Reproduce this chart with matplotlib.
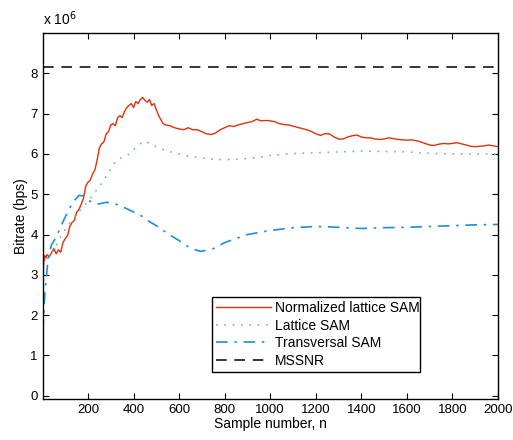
import matplotlib
matplotlib.use("Agg")
import matplotlib.pyplot as plt
import numpy as np

plt.rcParams['font.family'] = ['Liberation Sans', 'DejaVu Sans']

# values in units of 1e6 bps
n_norm = [1, 5, 10, 15, 20, 30, 40, 50, 60, 70, 80, 90, 100, 110, 120, 130, 140, 150,
          160, 170, 180, 190, 200, 210, 220, 230, 240, 250, 260, 270, 280, 290, 300,
          310, 320, 330, 340, 350, 360, 370, 380, 390, 400, 410, 420, 430, 440, 450,
          460, 470, 480, 490, 500, 510, 520, 530, 540, 560, 580, 600, 620, 640, 660,
          680, 700, 720, 740, 760, 780, 800, 820, 840, 860, 880, 900, 920, 940, 960,
          980, 1000, 1020, 1040, 1060, 1080, 1100, 1120, 1140, 1160, 1180, 1200, 1220,
          1240, 1260, 1280, 1300, 1320, 1340, 1360, 1380, 1400, 1420, 1440, 1460, 1480,
          1500, 1520, 1540, 1560, 1580, 1600, 1620, 1640, 1660, 1680, 1700, 1720, 1740,
          1760, 1780, 1800, 1820, 1840, 1860, 1880, 1900, 1920, 1940, 1960, 1980, 2000]
v_norm = [2.5, 3.3, 3.48, 3.42, 3.5, 3.45, 3.55, 3.65, 3.52, 3.62, 3.56, 3.8, 3.9, 3.97,
          4.2, 4.3, 4.35, 4.55, 4.62, 4.75, 4.9, 5.2, 5.3, 5.35, 5.5, 5.6, 5.85, 6.15,
          6.25, 6.3, 6.5, 6.55, 6.72, 6.75, 6.7, 6.9, 6.95, 6.9, 7.05, 7.15, 7.2, 7.25,
          7.15, 7.3, 7.25, 7.35, 7.4, 7.33, 7.28, 7.35, 7.2, 7.25, 7.1, 6.95, 6.85, 6.75,
          6.72, 6.7, 6.65, 6.62, 6.6, 6.65, 6.6, 6.6, 6.55, 6.5, 6.48, 6.52, 6.6, 6.65,
          6.7, 6.68, 6.72, 6.75, 6.78, 6.8, 6.86, 6.82, 6.83, 6.82, 6.8, 6.75, 6.73, 6.72,
          6.69, 6.66, 6.63, 6.6, 6.56, 6.5, 6.46, 6.5, 6.5, 6.42, 6.37, 6.37, 6.42, 6.45,
          6.47, 6.42, 6.4, 6.4, 6.37, 6.36, 6.37, 6.4, 6.38, 6.36, 6.35, 6.34, 6.35, 6.33,
          6.3, 6.26, 6.22, 6.21, 6.24, 6.26, 6.25, 6.26, 6.28, 6.25, 6.22, 6.19, 6.18,
          6.19, 6.2, 6.22, 6.2, 6.18]

n_lat = [1, 10, 16, 30, 50, 75, 111, 150, 184, 213, 257, 286, 323, 350, 381, 418, 447,
         470, 491, 525, 564, 600, 637, 700, 739, 800, 863, 914, 1000, 1104, 1200, 1300,
         1396, 1500, 1600, 1717, 1800, 1900, 2000]
v_lat = [3.3, 3.45, 3.3, 3.5, 3.6, 3.9, 4.22, 4.5, 4.72, 4.92, 5.25, 5.5, 5.83, 5.92,
         5.99, 6.2, 6.32, 6.26, 6.2, 6.12, 6.05, 6.0, 5.95, 5.9, 5.87, 5.86, 5.87, 5.89,
         5.96, 6.01, 6.03, 6.05, 6.07, 6.06, 6.05, 6.01, 6.0, 6.0, 5.99]

n_trans = [1, 10, 18, 25, 40, 60, 96, 133, 160, 177, 200, 240, 280, 308, 340, 389, 430,
           461, 512, 550, 600, 650, 695, 750, 800, 850, 900, 1000, 1100, 1200, 1300,
           1400, 1500, 1600, 1700, 1800, 1900, 2000]
v_trans = [1.6, 2.5, 3.0, 3.4, 3.75, 3.93, 4.39, 4.8, 4.97, 4.96, 4.85, 4.75, 4.8, 4.78,
           4.72, 4.59, 4.48, 4.35, 4.18, 4.02, 3.85, 3.66, 3.58, 3.65, 3.8, 3.9, 4.0,
           4.1, 4.17, 4.2, 4.18, 4.15, 4.17, 4.18, 4.2, 4.22, 4.24, 4.25]

mssnr = 8.15
labels = ["Normalized lattice SAM", "Lattice SAM", "Transversal SAM", "MSSNR"]


def main():
    fig = plt.figure(figsize=(5.13, 4.40), dpi=100)
    ax = fig.add_axes([0.0832, 0.0932, 0.8875, 0.8318])

    ax.plot(n_norm, v_norm, color="#e0300c", lw=1.0, label=labels[0])
    ax.plot(n_lat, v_lat, color="#74b8b2", lw=1.2, ls=(0, (1, 4)), label=labels[1])
    ax.plot(n_trans, v_trans, color="#1f8fd6", lw=1.2, ls=(0, (7, 4, 1.5, 4)),
            label=labels[2])
    ax.plot([1, 2000], [mssnr, mssnr], color="black", lw=1.1, ls=(0, (7, 5)),
            label=labels[3])

    ax.set_xlim(1, 2000)
    ax.set_ylim(-0.08, 9)
    ax.set_xticks(np.arange(200, 2001, 200))
    ax.set_yticks(np.arange(0, 9, 1))
    ax.tick_params(direction="in", top=True, right=True, length=4, width=0.8,
                   labelsize=9.5)
    for s in ax.spines.values():
        s.set_linewidth(1.0)

    ax.set_xlabel("Sample number, n", fontsize=10, labelpad=1)
    ax.set_ylabel("Bitrate (bps)", fontsize=10, labelpad=2)
    ax.text(0.0, 1.015, "x 10$^6$", transform=ax.transAxes, fontsize=10,
            ha="left", va="bottom")

    leg = ax.legend(loc="lower left", bbox_to_anchor=(0.3726, 0.0746, 0.4554, 0.2344),
                    mode="expand", fontsize=10, handlelength=3.9, handletextpad=0.3,
                    borderpad=0.3, labelspacing=0.25, fancybox=False, framealpha=1,
                    borderaxespad=0)
    leg.get_frame().set_edgecolor("black")
    leg.get_frame().set_linewidth(1.0)

    fig.savefig("out.png", dpi=100)


if __name__ == "__main__":
    main()
